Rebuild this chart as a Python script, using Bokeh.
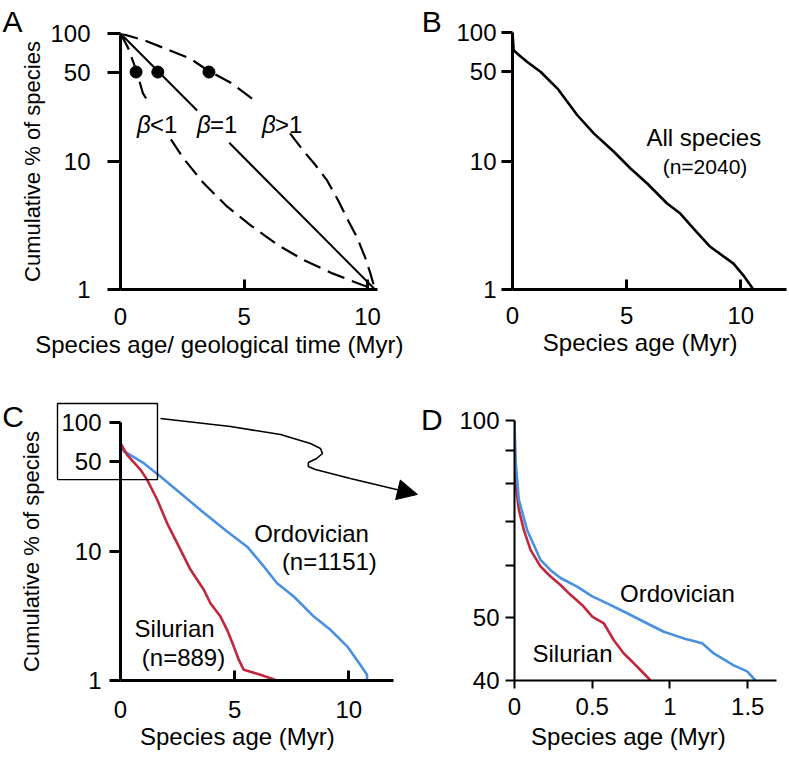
import math
from bokeh.plotting import figure
from bokeh.layouts import row, column
from bokeh.models import (Range1d, FixedTicker, Arrow, NormalHead, GridBox,
                          CustomJSTickFormatter)
from bokeh.core.properties import value
from bokeh.embed import file_html
from bokeh.resources import INLINE

FONT = "Liberation Sans"
RED = "#c1283e"
BLUE = "#4a90e0"
nan = float("nan")

# ---------------- data ----------------
# Panel A: schematic survivorship curves (NaN = gap left for the label)
a_one_x = [0.0, 3.1, nan, 4.4, 10.3]
a_one_y = [100.0, 25.0, nan, 14.0, 1.0]
a_high_x = [0.0, 0.99, 2.0, 2.81, 3.54, 4.51, 5.53, nan, 6.86, 7.39, 7.87, 8.36, 8.81, 9.17, 9.57, 9.90, 10.1, 10.3]
a_high_y = [100.0, 88.2, 73.7, 63.8, 51.4, 40.7, 28.9, nan, 16.6, 12.2, 9.48, 7.11, 4.96, 3.59, 2.55, 1.78, 1.36, 1.0]
a_low_x = [0.0, 0.30, 0.63, 0.91, 1.15, nan, 2.04, 2.53, 3.34, 4.27, 5.28, 6.33, 7.43, 8.6, 9.76, 10.3]
a_low_y = [100.0, 77.8, 52.3, 34.0, 28.9, nan, 14.9, 10.7, 6.85, 4.53, 3.16, 2.25, 1.69, 1.33, 1.09, 1.0]
a_dot_x = [0.63, 1.51, 3.58]
a_dot_y = [50.0, 50.0, 50.0]
a_beta_x = [0.67, 3.10, 5.73]
a_beta_y = [19.5, 19.5, 19.5]
a_beta_rel = ["<1", "=1", ">1"]

# Panel B: all species
b_x = [0.0, 0.05, 0.29, 0.65, 1.24, 1.97, 2.84, 3.56, 4.44, 5.17, 5.90, 6.77, 7.35, 7.93, 8.66, 9.68, 10.11, 10.55]
b_y = [100.0, 72.8, 66.6, 59.0, 49.3, 36.6, 22.7, 16.4, 11.8, 8.74, 6.68, 4.67, 3.90, 2.98, 2.15, 1.59, 1.29, 1.0]

# Panel C: Ordovician / Silurian
c_ord_x = [0.0, 0.0, 0.15, 0.29, 1.02, 1.75, 2.63, 3.50, 4.67, 5.55, 6.28, 6.86, 7.59, 8.47, 9.20, 9.93, 10.51, 10.80, 10.80]
c_ord_y = [100.0, 69.2, 59.6, 57.8, 48.4, 38.1, 28.3, 21.0, 14.3, 10.9, 7.66, 5.68, 4.48, 3.13, 2.47, 1.84, 1.32, 1.11, 1.0]
c_sil_x = [0.0, 0.0, 0.29, 0.88, 1.17, 1.61, 2.04, 2.63, 3.07, 3.65, 3.94, 4.38, 4.67, 4.96, 5.18, 5.40, 6.13, 6.86]
c_sil_y = [100.0, 69.2, 56.1, 43.0, 35.9, 25.2, 16.6, 10.3, 7.21, 5.05, 3.97, 3.13, 2.47, 1.84, 1.45, 1.21, 1.11, 1.0]

# Panel D: zoom on the first 1.6 Myr
d_ord_x = [0.0, 0.006, 0.028, 0.081, 0.167, 0.232, 0.296, 0.403, 0.5, 0.596, 0.725, 0.832, 0.960, 1.089, 1.207, 1.282, 1.410, 1.496, 1.550]
d_ord_y = [100.0, 87.1, 75.6, 68.0, 61.2, 59.0, 57.4, 55.7, 53.8, 52.5, 50.7, 49.2, 47.5, 46.4, 45.6, 44.0, 42.2, 41.3, 40.0]
d_sil_x = [0.0, 0.006, 0.028, 0.060, 0.103, 0.167, 0.232, 0.296, 0.360, 0.435, 0.5, 0.575, 0.639, 0.703, 0.768, 0.832, 0.875]
d_sil_y = [100.0, 80.2, 73.0, 68.0, 63.4, 59.8, 57.7, 56.0, 54.1, 52.2, 50.1, 48.9, 46.1, 44.0, 42.5, 41.0, 40.0]

y_ticks_abc = [1, 10, 50, 100]
x_ticks_abc = [0, 5, 10]
y_ticks_d = [40, 50, 100]
y_minor_d = [60, 70, 80, 90]
x_ticks_d = [0, 0.5, 1, 1.5]

# zoom box and connector arrow (panel C data coordinates)
box_l, box_r, box_b, box_t = -2.76, 1.62, 36.1, 140.4
conn_x = [1.75, 4.82, 7.01, 8.32, 8.76, 8.85, 8.59, 8.23, 8.23, 8.54, 10.07]
conn_y = [107.4, 93.1, 80.7, 68.7, 62.9, 57.5, 52.6, 48.9, 45.6, 43.2, 36.8]
conn_tip_x, conn_tip_y = 13.01, 27.7


# ---------------- helpers ----------------
def make_fig(w, h, xr, yr, bl, br, bt, bb):
    p = figure(width=w, height=h, x_range=Range1d(*xr), y_range=Range1d(*yr),
               y_axis_type="log", output_backend="svg", toolbar_location=None,
               min_border_left=bl, min_border_right=br, min_border_top=bt,
               min_border_bottom=bb)
    p.outline_line_color = None
    p.xgrid.visible = False
    p.ygrid.visible = False
    p.background_fill_color = "white"
    p.border_fill_color = "white"
    return p


def make_overlay(w, h, xr, yr, bl, br, bt, bb):
    """Transparent figure covering the whole canvas, with the same scales as
    the panel below it (so that texts outside the frame are not clipped)."""
    fw = w - bl - br
    fh = h - bt - bb
    xs = (xr[1] - xr[0]) / fw
    ly0, ly1 = math.log10(yr[0]), math.log10(yr[1])
    ls = (ly1 - ly0) / fh
    o = figure(width=w, height=h,
               x_range=Range1d(xr[0] - bl * xs, xr[1] + br * xs),
               y_range=Range1d(10 ** (ly0 - bb * ls), 10 ** (ly1 + bt * ls)),
               y_axis_type="log", x_axis_location=None, y_axis_location=None,
               output_backend="svg", toolbar_location=None, min_border=0,
               min_border_left=0, min_border_right=0, min_border_top=0,
               min_border_bottom=0)
    o.outline_line_color = None
    o.xgrid.visible = False
    o.ygrid.visible = False
    o.background_fill_color = None
    o.border_fill_color = None
    return o


def style_axes(p, xt, yt, lw, xin, xout, yout, xstand, ystand, yminor=None):
    xa = p.xaxis[0]
    ya = p.yaxis[0]
    xa.ticker = FixedTicker(ticks=xt)
    if yminor:
        ya.ticker = FixedTicker(ticks=yt, minor_ticks=yminor)
    else:
        ya.ticker = FixedTicker(ticks=yt)
    for ax in (xa, ya):
        ax.formatter = CustomJSTickFormatter(code="return String(tick)")
        ax.axis_line_width = lw
        ax.axis_line_color = "black"
        ax.major_tick_line_width = lw
        ax.minor_tick_line_width = lw
        ax.major_tick_line_color = "black"
        ax.minor_tick_line_color = "black"
        ax.major_label_text_font = FONT
        ax.major_label_text_font_size = "24px"
        ax.major_label_text_color = "black"
    xa.major_tick_in = xin
    xa.major_tick_out = xout
    xa.minor_tick_in = 0
    xa.minor_tick_out = 0
    xa.major_label_standoff = xstand
    ya.major_tick_in = 0
    ya.major_tick_out = yout
    ya.minor_tick_in = 0
    ya.minor_tick_out = yout if yminor else 0
    ya.major_label_standoff = ystand


def ylabel(p, standoff):
    ya = p.yaxis[0]
    ya.axis_label = "Cumulative % of species"
    ya.axis_label_text_font = FONT
    ya.axis_label_text_font_size = "22px"
    ya.axis_label_text_font_style = "normal"
    ya.axis_label_text_color = "black"
    ya.axis_label_standoff = standoff


def txt(p, x, y, text, size="24px", style="normal", align="center", x_offset=0):
    p.text(x=x, y=y, text=text, text_font=value(FONT), text_font_size=size,
           text_font_style=style, text_align=align, text_baseline="middle",
           text_color="black", x_offset=x_offset)


def cell(p, o):
    # overlay wrapped in a column so that its frame is not aligned with p's
    return GridBox(children=[(p, 0, 0), (column(o), 0, 0)], spacing=0)


# ---------------- Panel A ----------------
A_GEOM = (405, 372, (0, 10.4), (1, 100), 120, 28, 33, 83)
pA = make_fig(*A_GEOM)
oA = make_overlay(*A_GEOM)
style_axes(pA, x_ticks_abc, y_ticks_abc, 3, 10, 0, 13, 18, 17)
ylabel(pA, 2)
pA.line(a_one_x, a_one_y, line_color="black", line_width=2)
pA.line(a_high_x, a_high_y, line_color="black", line_width=2.2, line_dash="18 8")
pA.line(a_low_x, a_low_y, line_color="black", line_width=2.2, line_dash="18 8")
pA.scatter(a_dot_x, a_dot_y, size=12, color="black")
txt(pA, a_beta_x, a_beta_y, ["β"] * 3, style="italic", align="left")
txt(pA, a_beta_x, a_beta_y, a_beta_rel, align="left", x_offset=13)
txt(oA, [4.0], [0.372], ["Species age/ geological time (Myr)"])
txt(oA, [-4.37], [124.1], ["A"], size="30px")

# ---------------- Panel B ----------------
B_GEOM = (382, 372, (0, 12.0), (1, 100), 107, 1, 32, 83)
pB = make_fig(*B_GEOM)
oB = make_overlay(*B_GEOM)
style_axes(pB, x_ticks_abc, y_ticks_abc, 3, 10, 0, 11, 17, 5)
pB.line(b_x, b_y, line_color="black", line_width=2.6)
txt(pB, [8.38], [15.3], ["All species"])
txt(pB, [8.43], [9.12], ["(n=2040)"], size="21px")
txt(oB, [5.59], [0.387], ["Species age (Myr)"])
txt(oB, [-3.54], [122.4], ["B"], size="30px")

# ---------------- Panel C ----------------
C_GEOM = (420, 378, (0, 11.96), (1, 100), 120, 27, 50, 70)
pC = make_fig(*C_GEOM)
oC = make_overlay(*C_GEOM)
style_axes(pC, x_ticks_abc, y_ticks_abc, 3, 10, 0, 11, 20, 8)
ylabel(pC, 14)
pC.line(c_ord_x, c_ord_y, line_color=BLUE, line_width=2.6)
pC.line(c_sil_x, c_sil_y, line_color=RED, line_width=2.6)
txt(pC, [8.37, 9.15], [13.8, 8.37], ["Ordovician", "(n=1151)"])
txt(pC, [2.37, 2.76], [2.53, 1.51], ["Silurian", "(n=889)"])
txt(oC, [5.12], [0.368], ["Species age (Myr)"])
txt(oC, [-4.71], [111.3], ["C"], size="30px")
oC.quad(left=[box_l], right=[box_r], bottom=[box_b], top=[box_t], fill_color=None,
        line_color="black", line_width=1.4)
oC.line(conn_x, conn_y, line_color="black", line_width=1.6)
oC.add_layout(Arrow(x_start=conn_x[-1], y_start=conn_y[-1], x_end=conn_tip_x, y_end=conn_tip_y,
                    end=NormalHead(size=20, fill_color="black", line_color="black"),
                    line_color="black", line_width=1.6))

# ---------------- Panel D ----------------
D_GEOM = (367, 378, (0, 1.685), (40, 100), 94, 11, 48, 70)
pD = make_fig(*D_GEOM)
oD = make_overlay(*D_GEOM)
style_axes(pD, x_ticks_d, y_ticks_d, 2, 0, 8, 9, 9, 6, yminor=y_minor_d)
pD.line(d_sil_x, d_sil_y, line_color=RED, line_width=2.6)
pD.line(d_ord_x, d_ord_y, line_color=BLUE, line_width=2.6)
txt(pD, [1.048], [54.3], ["Ordovician"])
txt(pD, [0.373], [44.0], ["Silurian"])
txt(oD, [0.733], [32.8], ["Species age (Myr)"])
txt(oD, [-0.531], [100.5], ["D"], size="30px")

layout = column(row(cell(pA, oA), cell(pB, oB)),
                row(cell(pC, oC), cell(pD, oD)))
open("out.html", "w").write(file_html(layout, INLINE))
